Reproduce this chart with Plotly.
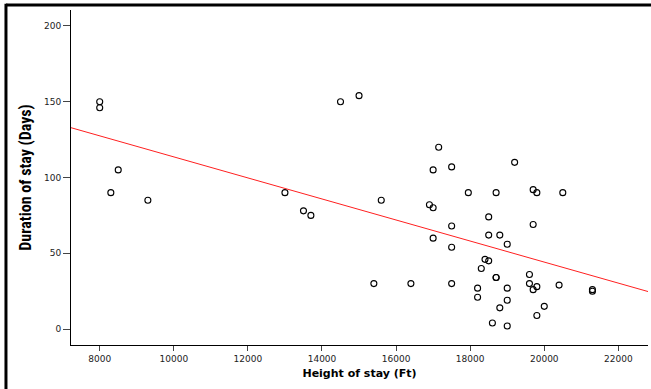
import plotly.graph_objects as go

# Data
height_ft = [8000, 8000, 8500, 8300, 9300, 13000, 13500, 13700, 14500, 15000, 15600, 15400, 16400,
             17150, 17000, 17500, 19200, 17950, 18700, 19700, 19800, 20500, 16900, 17000, 18500,
             19700, 17500, 17000, 18500, 18800, 17500, 19000, 18400, 18500, 18300, 18700, 18700,
             19600, 17500, 19600, 19800, 19700, 20400, 21300, 21300, 18200, 19000, 18200, 19000,
             18800, 20000, 19800, 18600, 19000]
duration_days = [150, 146, 105, 90, 85, 90, 78, 75, 150, 154, 85, 30, 30,
                 120, 105, 107, 110, 90, 90, 92, 90, 90, 82, 80, 74,
                 69, 68, 60, 62, 62, 54, 56, 46, 45, 40, 34, 34,
                 36, 30, 30, 28, 26, 29, 26, 25, 27, 27, 21, 19,
                 14, 15, 9, 4, 2]

# Fit line coefficients
fit_intercept = 183.0
fit_slope = -0.00694

x_range = [7225, 22800]
y_range = [-10.5, 210.5]
x_ticks = [8000, 10000, 12000, 14000, 16000, 18000, 20000, 22000]
y_ticks = [0, 50, 100, 150, 200]

fit_x = x_range
fit_y = [fit_intercept + fit_slope * v for v in fit_x]

fig = go.Figure()
fig.add_trace(go.Scatter(
    x=height_ft, y=duration_days, mode="markers",
    marker=dict(symbol="circle-open", size=6, color="black", line=dict(width=1.1, color="black")),
    showlegend=False, hoverinfo="x+y"))
fig.add_trace(go.Scatter(
    x=fit_x, y=fit_y, mode="lines",
    line=dict(color="#ff2020", width=1), showlegend=False))

fig.update_layout(
    width=651, height=389,
    margin=dict(l=71, r=3, t=10, b=44),
    paper_bgcolor="white", plot_bgcolor="white",
    font=dict(family="DejaVu Sans, Verdana, sans-serif", color="#222222"),
    xaxis=dict(range=x_range, tickvals=x_ticks, ticktext=[str(t) for t in x_ticks],
               showgrid=False, zeroline=False, showline=True, linecolor="black", linewidth=1,
               ticks="outside", ticklen=5, tickcolor="#444444", tickfont=dict(size=9, color="#222222"),
               title=dict(text="<b>Height of stay (Ft)</b>", standoff=6,
                          font=dict(size=11, family="DejaVu Sans, Verdana, sans-serif", color="black"))),
    yaxis=dict(range=y_range, tickvals=y_ticks, ticktext=[str(t) for t in y_ticks],
               showgrid=False, zeroline=False, showline=True, linecolor="black", linewidth=1,
               ticks="outside", ticklen=7, tickcolor="#444444", tickfont=dict(size=9, color="#222222"),
               title=dict(text="<b>Duration of stay (Days)</b>", standoff=8,
                          font=dict(size=16, family="Liberation Sans Narrow, Roboto Condensed, Arial Narrow, sans-serif",
                                    color="black"))),
    shapes=[
        dict(type="line", xref="paper", yref="paper", x0=-0.1127, x1=1.01, y0=1.0149, y1=1.0149,
             line=dict(color="black", width=3)),
        dict(type="line", xref="paper", yref="paper", x0=-0.1127, x1=-0.1127, y0=1.019, y1=-0.14,
             line=dict(color="black", width=3)),
    ],
)

fig.write_html("out.html", config={"displayModeBar": False},
               post_script="document.body.style.margin='0';")
